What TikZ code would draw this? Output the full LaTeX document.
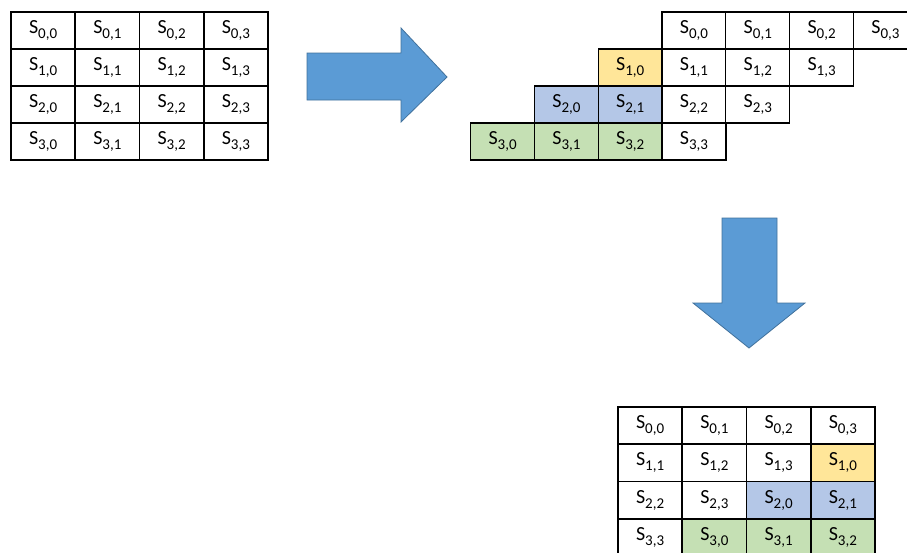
\documentclass[tikz,border=0pt]{standalone}
\usepackage{fontspec}
\setmainfont{Carlito}
\definecolor{cyel}{HTML}{FFE699}
\definecolor{cblu}{HTML}{B4C7E7}
\definecolor{cgrn}{HTML}{C5E0B4}
\definecolor{arrfill}{HTML}{5B9BD5}
\definecolor{arredge}{HTML}{41719C}
\colorlet{c1}{cyel}
\colorlet{c2}{cblu}
\colorlet{c3}{cgrn}
\newcommand\sval[2]{S\raisebox{-0.26em}{\fontsize{15}{15}\selectfont #1,#2}}
\tikzset{
  cellbox/.style={draw=black, line width=1.3pt, rectangle, minimum width=64pt, minimum height=37pt, inner sep=0pt, font=\fontsize{20}{20}\selectfont},
  bigarrow/.style={fill=arrfill, draw=arredge, line width=0.8pt, line join=miter}
}
\begin{document}
\begin{tikzpicture}[x=1pt,y=-1pt]
\useasboundingbox (0,0) rectangle (907,552);
% grid 1
\foreach \i in {0,...,3}{
  \foreach \j in {0,...,3}{
    \node[cellbox] (a\i\j) at ({11+64.25*\j+32.1},{12+37*\i+18.5}) {\sval{\i}{\j}};
  }
}
% grid 2 (shifted rows)
\foreach \i in {0,...,3}{
  \foreach \j in {0,...,3}{
    \ifnum\j<\i \def\fc{c\i}\else\def\fc{white}\fi
    \node[cellbox, fill=\fc] (b\i\j) at ({662+63.8*(\j-\i)+32},{12+37*\i+18.5}) {\sval{\i}{\j}};
  }
}
% grid 3 (rotated rows)
\foreach \i in {0,...,3}{
  \foreach \p in {0,...,3}{
    \pgfmathtruncatemacro\jj{mod(\p+\i,4)}
    \ifnum\jj<\i \def\fc{c\i}\else\def\fc{white}\fi
    \node[cellbox, fill=\fc] (c\i\p) at ({618+64.25*\p+32.1},{407+37.25*\i+18.6}) {\sval{\i}{\jj}};
  }
}
% arrows
\draw[bigarrow] (307,53) -- (401,53) -- (401,28) -- (447,77) -- (401,122) -- (401,100) -- (307,100) -- cycle;
\draw[bigarrow] (722,218) -- (777,218) -- (777,303) -- (805,303) -- (749,348) -- (693,303) -- (722,303) -- cycle;
\end{tikzpicture}
\end{document}
